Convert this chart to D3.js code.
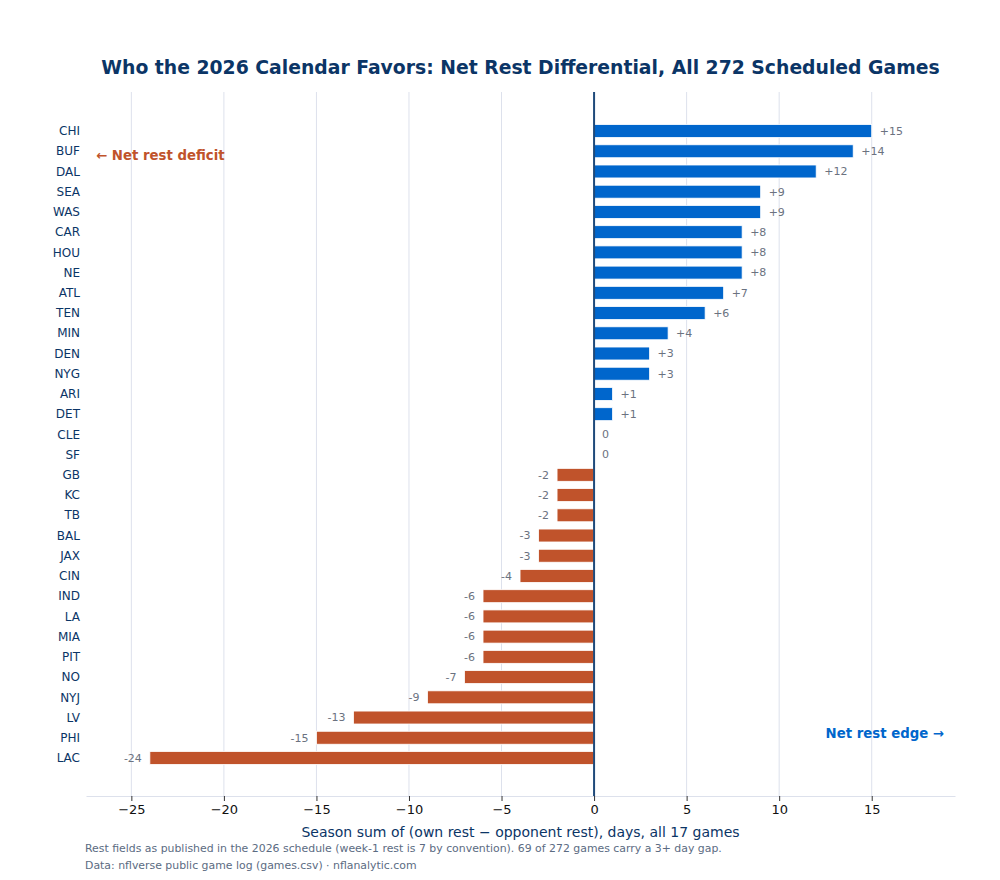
<!DOCTYPE html>
<html>
<head>
<meta charset="utf-8">
<script src="https://cdn.jsdelivr.net/npm/d3@7"></script>
<style>
  body { margin: 0; background: #fff; font-family: "DejaVu Sans", sans-serif; }
</style>
</head>
<body>
<div class="chart"></div>
<script>
// teams, top to bottom
var teams = ["CHI","BUF","DAL","SEA","WAS","CAR","HOU","NE","ATL","TEN","MIN","DEN","NYG","ARI","DET",
  "CLE","SF","GB","KC","TB","BAL","JAX","CIN","IND","LA","MIA","PIT","NO","NYJ","LV","PHI","LAC"];
var netRest = [15,14,12,9,9,8,8,8,7,6,4,3,3,1,1,0,0,-2,-2,-2,-3,-3,-4,-6,-6,-6,-6,-7,-9,-13,-15,-24];
var xTicks = [-25,-20,-15,-10,-5,0,5,10,15];

var titleText = "Who the 2026 Calendar Favors: Net Rest Differential, All 272 Scheduled Games";
var xLabel = "Season sum of (own rest \u2212 opponent rest), days, all 17 games";
var notes = ["Rest fields as published in the 2026 schedule (week-1 rest is 7 by convention). 69 of 272 games carry a 3+ day gap.",
  "Data: nflverse public game log (games.csv) \u00b7 nflanalytic.com"];

var width = 1000, height = 880;
var margin = {top: 92, right: 45, bottom: 84, left: 86};
var innerW = width - margin.left - margin.right;
var innerH = height - margin.top - margin.bottom;

var navy = "#0b3566", blue = "#0066cc", orange = "#c0532b", grey = "#6b7280";

var svg = d3.select(".chart").append("svg")
  .attr("width", width)
  .attr("height", height);

var g = svg.append("g")
  .attr("transform", "translate(" + margin.left + "," + margin.top + ")");

var x = d3.scaleLinear().domain([-27.45, 19.5]).range([0, innerW]);
// index scale, padded like matplotlib's barh limits
var y = d3.scaleLinear().domain([-1.93, teams.length - 1 + 1.88]).range([0, innerH]);
var step = y(1) - y(0);
var barH = step * 0.64;

// grid
g.append("g").selectAll("line")
  .data(xTicks)
  .enter().append("line")
  .attr("x1", d => x(d)).attr("x2", d => x(d))
  .attr("y1", 0).attr("y2", innerH)
  .attr("stroke", "#dde1ec")
  .attr("stroke-width", 1);

// bars
g.append("g").selectAll("rect")
  .data(netRest)
  .enter().append("rect")
  .attr("x", d => x(Math.min(0, d)))
  .attr("width", d => Math.abs(x(d) - x(0)))
  .attr("y", (d, i) => y(i) - barH / 2)
  .attr("height", barH)
  .attr("fill", d => d >= 0 ? blue : orange)
  .attr("stroke", "white")
  .attr("stroke-width", 0.8);

// value labels
g.append("g").selectAll("text")
  .data(netRest)
  .enter().append("text")
  .attr("x", d => d < 0 ? x(d) - 8 : x(d) + 8)
  .attr("y", (d, i) => y(i))
  .attr("dy", "0.35em")
  .attr("text-anchor", d => d < 0 ? "end" : "start")
  .style("font-size", "11px")
  .attr("fill", grey)
  .text(d => d > 0 ? "+" + d : String(d));

// zero line
g.append("line")
  .attr("x1", x(0)).attr("x2", x(0))
  .attr("y1", 0).attr("y2", innerH)
  .attr("stroke", "#1f4a7a")
  .attr("stroke-width", 2);

// x axis
var xAxis = g.append("g")
  .attr("transform", "translate(0," + innerH + ")")
  .call(d3.axisBottom(x).tickValues(xTicks).tickSizeInner(5).tickSizeOuter(0).tickPadding(4)
    .tickFormat(d => d < 0 ? "\u2212" + Math.abs(d) : d));
xAxis.select(".domain").attr("stroke", "#dde1ec");
xAxis.selectAll(".tick line").attr("stroke", "#333");
xAxis.selectAll("text")
  .style("font-family", "DejaVu Sans")
  .style("font-size", "13px")
  .attr("fill", "#111");

// y labels
g.append("g").selectAll("text")
  .data(teams)
  .enter().append("text")
  .attr("x", -6)
  .attr("y", (d, i) => y(i))
  .attr("dy", "0.35em")
  .attr("text-anchor", "end")
  .style("font-size", "12px")
  .attr("fill", navy)
  .text(d => d);

// annotations
g.append("text")
  .attr("x", 10)
  .attr("y", y(1.2))
  .attr("dy", "0.35em")
  .style("font-size", "13.3px")
  .style("font-weight", "bold")
  .attr("fill", orange)
  .text("\u2190 Net rest deficit");

g.append("text")
  .attr("x", innerW - 11)
  .attr("y", y(29.8))
  .attr("dy", "0.35em")
  .attr("text-anchor", "end")
  .style("font-size", "13.3px")
  .style("font-weight", "bold")
  .attr("fill", blue)
  .text("Net rest edge \u2192");

// title
svg.append("text")
  .attr("x", margin.left + innerW / 2)
  .attr("y", 74)
  .attr("text-anchor", "middle")
  .style("font-size", "18.8px")
  .style("font-weight", "bold")
  .attr("fill", navy)
  .text(titleText);

// x label
svg.append("text")
  .attr("x", margin.left + innerW / 2)
  .attr("y", 837)
  .attr("text-anchor", "middle")
  .style("font-size", "14px")
  .attr("fill", navy)
  .text(xLabel);

// footnotes
svg.append("g").selectAll("text")
  .data(notes)
  .enter().append("text")
  .attr("x", 85)
  .attr("y", (d, i) => 852 + i * 17)
  .style("font-size", "10.9px")
  .attr("fill", "#5b6b82")
  .text(d => d);
</script>
</body>
</html>
